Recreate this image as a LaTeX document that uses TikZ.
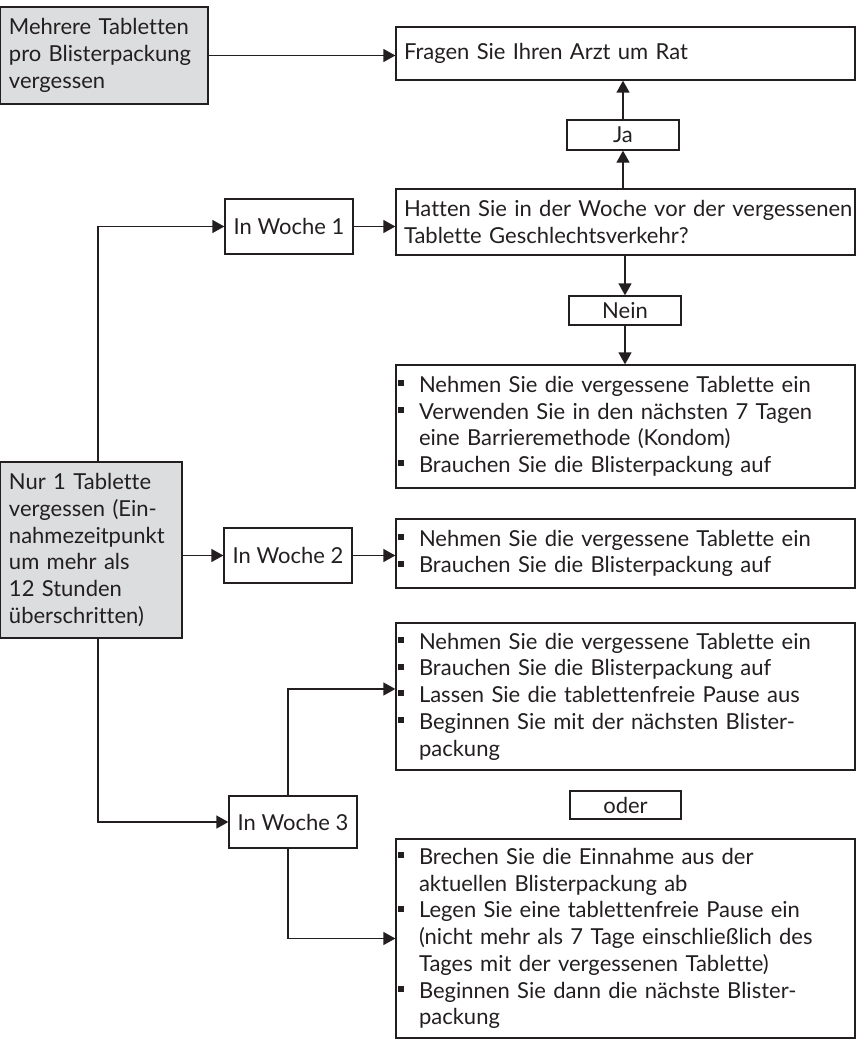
\documentclass[tikz,border=0pt]{standalone}
\usepackage{fontspec}
\setmainfont{Lato}[Ligatures=NoCommon]
\usetikzlibrary{arrows.meta}
\definecolor{ink}{HTML}{231F20}
\definecolor{boxgray}{HTML}{DCDDDE}
\newcommand\bu{\makebox[21pt][l]{\rule[6.2pt]{6pt}{6pt}}}
\newcommand\ind{\hspace*{21pt}}
\tikzset{
  box/.style={draw=ink, line width=1.3pt, rectangle, inner ysep=0pt, text=ink,
    font=\fontsize{22}{26.7}\selectfont},
  graybox/.style={box, fill=boxgray, inner xsep=9pt, align=left},
  txtbox/.style={box, inner xsep=8pt, align=left},
  listbox/.style={box, inner xsep=2pt, align=left},
  smallbox/.style={box, align=center, inner xsep=2pt},
  arr/.style={draw=ink, line width=1.3pt, -{Triangle[length=12pt,width=13pt]}},
  ln/.style={draw=ink, line width=1.3pt}
}
\begin{document}
\begin{tikzpicture}[x=1pt,y=-1pt]
\useasboundingbox (0,0) rectangle (856,1046);
% boxes
\node[graybox, minimum width=208pt, minimum height=97pt, text width=190pt] (A) at (104,55.5)
  {Mehrere Tabletten\\pro Blisterpackung\\vergessen};
\node[txtbox, minimum width=459pt, minimum height=53pt, text width=443pt] (F) at (625.5,53.5)
  {Fragen Sie Ihren Arzt um Rat};
\node[smallbox, minimum width=112pt, minimum height=30pt] (Ja) at (623,135) {Ja};
\node[txtbox, minimum width=459pt, minimum height=66pt, text width=443pt] (H) at (625.5,222)
  {\mbox{Hatten Sie in der Woche vor der vergessenen}\\Tablette Geschlechtsverkehr?};
\node[smallbox, minimum width=128pt, minimum height=55pt] (W1) at (289,226.5) {In Woche 1};
\node[smallbox, minimum width=112pt, minimum height=29pt] (Nein) at (625,310.5) {Nein};
\node[listbox, minimum width=459pt, minimum height=123pt, text width=455pt] (B1) at (625.5,426.5)
  {\bu Nehmen Sie die vergessene Tablette ein\\
   \bu Verwenden Sie in den nächsten 7 Tagen\\
   \ind eine Barrieremethode (Kondom)\\
   \bu Brauchen Sie die Blisterpackung auf};
\node[graybox, minimum width=182pt, minimum height=176pt, text width=164pt] (Nur) at (91,550)
  {Nur 1 Tablette\\vergessen (Ein-\\nahmezeitpunkt\\um mehr als\\12 Stunden\\überschritten)};
\node[smallbox, minimum width=128pt, minimum height=55pt] (W2) at (288,555.5) {In Woche 2};
\node[listbox, minimum width=459pt, minimum height=69pt, text width=455pt] (B2) at (625.5,553.5)
  {\bu Nehmen Sie die vergessene Tablette ein\\
   \bu Brauchen Sie die Blisterpackung auf};
\node[listbox, minimum width=459pt, minimum height=147pt, text width=455pt] (B3) at (625.5,696.5)
  {\bu Nehmen Sie die vergessene Tablette ein\\
   \bu Brauchen Sie die Blisterpackung auf\\
   \bu Lassen Sie die tablettenfreie Pause aus\\
   \bu Beginnen Sie mit der nächsten Blister-\\
   \ind packung};
\node[smallbox, minimum width=111pt, minimum height=28pt] (oder) at (625.5,805) {oder};
\node[smallbox, minimum width=128pt, minimum height=52pt] (W3) at (293,822) {In Woche 3};
\node[listbox, minimum width=459pt, minimum height=199pt, text width=455pt] (B4) at (625.5,938.5)
  {\bu Brechen Sie die Einnahme aus der\\
   \ind aktuellen Blisterpackung ab\\
   \bu Legen Sie eine tablettenfreie Pause ein\\
   \ind (nicht mehr als 7 Tage einschließlich des\\
   \ind Tages mit der vergessenen Tablette)\\
   \bu Beginnen Sie dann die nächste Blister-\\
   \ind packung};
% connectors
\draw[arr] (A.east) -- (A.east -| F.west);
\draw[arr] (Ja.north) -- (Ja.north |- F.south);
\draw[arr] (Ja.south |- H.north) -- (Ja.south);
\draw[arr] (Nein.north |- H.south) -- (Nein.north);
\draw[arr] (Nein.south) -- (Nein.south |- B1.north);
\draw[arr] (W1.east) -- (W1.east -| H.west);
\draw[arr] ([xshift=7pt]Nur.north) |- (W1.west);
\draw[arr] (W2.west -| Nur.east) -- (W2.west);
\draw[arr] (W2.east) -- (W2.east -| B2.west);
\draw[arr] ([xshift=7pt]Nur.south) |- (W3.west);
\draw[arr] ([xshift=-5pt]W3.north) |- ([yshift=7.5pt]B3.west);
\draw[arr] ([xshift=-5pt]W3.south) |- (B4.west);
\end{tikzpicture}
\end{document}
